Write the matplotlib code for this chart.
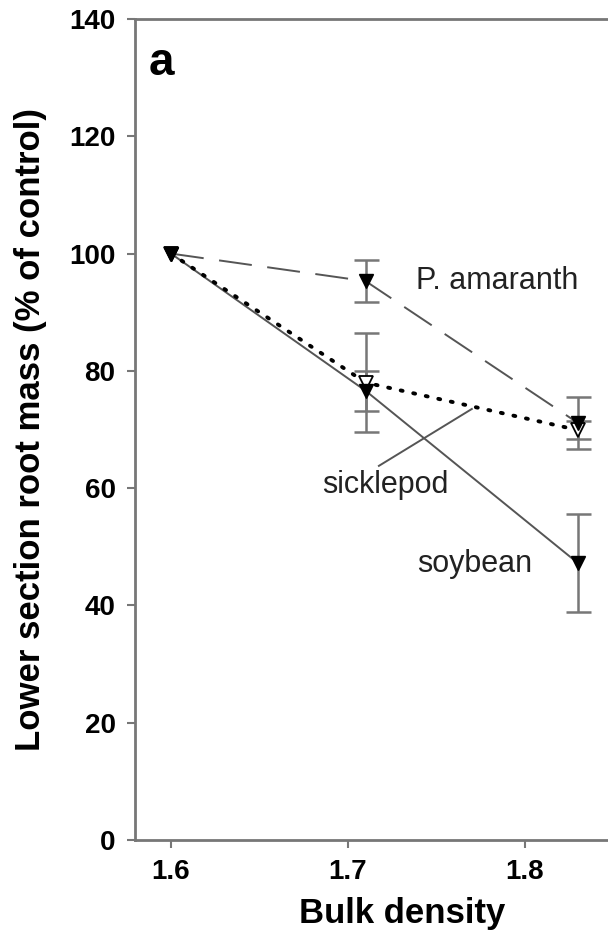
import numpy as np
import matplotlib
matplotlib.use("Agg")
import matplotlib.pyplot as plt

plt.rcParams['font.family'] = ['Liberation Sans', 'DejaVu Sans']

# datos
densidad = [1.6, 1.71, 1.83]
amaranth = [100, 95.3, 71.1]
amaranth_err = [0, 3.6, 4.5]
sicklepod = [100, 78.0, 69.9]
sicklepod_err = [0, 8.4, 1.5]
soybean = [100, 76.6, 47.2]
soybean_err = [0, 3.4, 8.4]

fig = plt.figure(figsize=(6.08, 9.4), dpi=100)
# el panel original sigue a la derecha, fuera de la imagen
ax = fig.add_axes([135 / 608, 1 - 840 / 940, (669 - 135) / 608, (840 - 19) / 940])

gris = '#777777'
linea = '#555555'

# barras de error
for y, e in [(amaranth, amaranth_err), (sicklepod, sicklepod_err), (soybean, soybean_err)]:
    ax.errorbar(densidad[1:], y[1:], yerr=e[1:], fmt='none', ecolor=gris,
                elinewidth=1.8, capsize=9, capthick=1.8, zorder=2)

# lineas
ax.plot(densidad, soybean, color=linea, lw=1.4, zorder=3)
ax.plot(densidad, amaranth, color=linea, lw=1.4, dashes=(17, 8), zorder=3)
ax.plot(densidad, sicklepod, color='black', lw=2.8, linestyle=(0, (0.5, 2.8)),
        dash_capstyle='round', zorder=3)

# marcadores
ax.plot(densidad, sicklepod, 'v', ms=10, mfc='white', mec='black', mew=1.3, zorder=4)
ax.plot(densidad, soybean, 'v', ms=10, mfc='black', mec='black', zorder=5)
ax.plot(densidad, amaranth, 'v', ms=10, mfc='black', mec='black', zorder=5)

# etiquetas
ax.text(1.7385, 95.3, 'P. amaranth', fontsize=22, va='center', ha='left', color='#222222')
ax.text(1.7209, 60.6, 'sicklepod', fontsize=22, va='center', ha='center', color='#222222')
ax.text(1.7717, 47.0, 'soybean', fontsize=22, va='center', ha='center', color='#222222')
ax.plot([1.7175, 1.770], [63.8, 73.5], color=linea, lw=1.4, zorder=3)
ax.text(1.5875, 132.5, 'a', fontsize=33, fontweight='bold', va='center', ha='left')

ax.set_xlim(1.5797, 1.8814)
ax.set_ylim(0, 140)
ax.set_xticks([1.6, 1.7, 1.8])
ax.set_xticklabels(['1.6', '1.7', '1.8'])
ax.set_yticks(np.arange(0, 141, 20))

for s in ['left', 'bottom', 'top', 'right']:
    ax.spines[s].set_color(gris)
    ax.spines[s].set_linewidth(2)

ax.tick_params(direction='out', length=6, width=1.5, color=gris, labelsize=20, pad=8)
for t in ax.get_xticklabels() + ax.get_yticklabels():
    t.set_fontweight('bold')

ax.set_xlabel('Bulk density', fontsize=25, fontweight='bold', labelpad=8)
ax.set_ylabel('Lower section root mass (% of control)', fontsize=25, fontweight='bold', labelpad=16)

fig.savefig('out.png', dpi=100)
